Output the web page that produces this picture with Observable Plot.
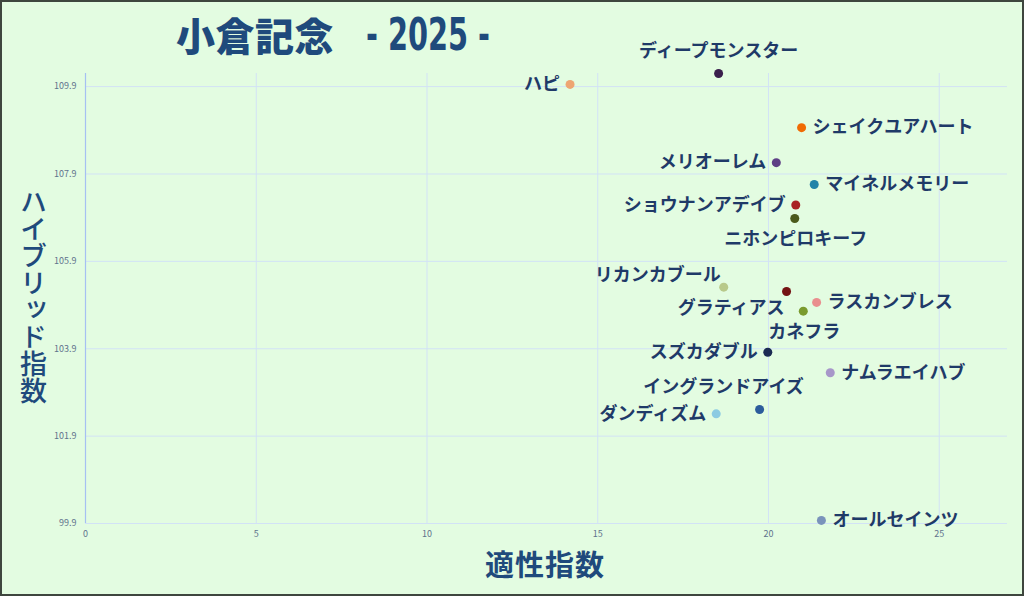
<!DOCTYPE html>
<html><head><meta charset="utf-8">
<script src="https://cdn.jsdelivr.net/npm/d3@7"></script>
<script src="https://cdn.jsdelivr.net/npm/@observablehq/plot@0.6"></script>
<style>
html,body{margin:0;padding:0;background:#e3fce1;}
#wrap{position:relative;width:1024px;height:596px;overflow:hidden;background:#e3fce1;font-family:"Noto Sans CJK JP",sans-serif;}
#frame{position:absolute;left:0;top:0;width:1024px;height:596px;box-sizing:border-box;border:2px solid #3e463e;pointer-events:none;}
#chart{position:absolute;left:0;top:0;}
#title{position:absolute;left:176px;top:7px;color:#1f4a7c;font-weight:900;font-size:39px;line-height:54px;white-space:pre;letter-spacing:0.5px;}
#yr{position:absolute;left:366px;top:8px;color:#1f4a7c;font-family:"Liberation Sans Narrow","DejaVu Sans Condensed","Liberation Sans",sans-serif;font-weight:bold;font-size:45px;line-height:54px;white-space:pre;transform-origin:left center;}
#xtitle{position:absolute;left:485px;top:543px;color:#1f4a7c;font-weight:700;font-size:29px;line-height:40px;letter-spacing:1px;}
#ytitle{position:absolute;left:18px;top:188px;color:#1f4a7c;font-weight:500;font-size:27px;writing-mode:vertical-rl;text-orientation:upright;line-height:30px;}
#chart text.lbl{filter:drop-shadow(1px 1px 1px rgba(0,0,0,0.22));}
</style>
</head><body>
<div id="wrap">
  <div id="chart"></div>
  <div id="title">小倉記念</div>
  <div id="yr">- 2025 -</div>
  <div id="xtitle">適性指数</div>
  <div id="ytitle">ハイブリッド指数</div>
  <div id="frame"></div>
</div>
<script>
// ---- data ----
const horses = ["ディープモンスター","ハピ","シェイクユアハート","メリオーレム","マイネルメモリー","ショウナンアデイブ","ニホンピロキーフ","リカンカブール","グラティアス","ラスカンブレス","カネフラ","スズカダブル","ナムラエイハブ","イングランドアイズ","ダンディズム","オールセインツ"];
const aptitude = [18.54, 14.19, 20.97, 20.23, 21.34, 20.80, 20.77, 18.69, 20.53, 21.41, 21.02, 19.98, 21.81, 19.74, 18.47, 21.55];
const hybrid   = [110.20, 109.95, 108.96, 108.16, 107.66, 107.19, 106.88, 105.31, 105.21, 104.96, 104.76, 103.82, 103.35, 102.51, 102.41, 99.97];
const dotColors = ["#3a1f4c","#eea572","#f06b04","#5e3f85","#2183a8","#a92123","#4b5a1c","#b8c98a","#741313","#e98e8e","#7a9b2e","#1b2b52","#a797c9","#2c5c9c","#8ccbe2","#7a93bb"];
const labelPlace = ["top","left","right","left","right","left","bottom","topLeft","bottomLeft","right","bottom","left","right","topShift","left","right"];
const xTicks = [0, 5, 10, 15, 20, 25];
const yTicks = [99.9, 101.9, 103.9, 105.9, 107.9, 109.9];
const xDomain = [0, 27];
const yDomain = [99.9, 110.2];

// ---- label placement styles ----
const placeStyle = {
  right:      {textAnchor: "start",  dx: 11,  dy: 0},
  left:       {textAnchor: "end",    dx: -10, dy: 0},
  top:        {textAnchor: "middle", dx: 0,   dy: -22},
  bottom:     {textAnchor: "middle", dx: 1,   dy: 21},
  topLeft:    {textAnchor: "end",    dx: -3,  dy: -12},
  bottomLeft: {textAnchor: "end",    dx: -2,  dy: 17},
  topShift:   {textAnchor: "middle", dx: -36, dy: -22}
};

const rows = horses.map((h, i) => ({name: h, x: aptitude[i], y: hybrid[i], color: dotColors[i], place: labelPlace[i]}));

const labelMarks = Object.entries(placeStyle).map(([k, s]) =>
  Plot.text(rows.filter(d => d.place === k), {
    x: "x", y: "y", text: "name", ...s,
    fill: "#1f3a68", fontSize: 18, fontWeight: "bold", className: "lbl",
    fontFamily: "Noto Sans CJK JP"
  })
);

const chart = Plot.plot({
  width: 1024,
  height: 596,
  marginLeft: 85,
  marginRight: 17,
  marginTop: 73,
  marginBottom: 73,
  style: {background: "transparent", fontFamily: "Noto Sans CJK JP, sans-serif"},
  x: {domain: xDomain},
  y: {domain: yDomain},
  marks: [
    Plot.gridX(xTicks, {stroke: "#d2e2f6", strokeOpacity: 1}),
    Plot.gridY(yTicks, {stroke: "#d2e2f6", strokeOpacity: 1}),
    Plot.ruleX([0], {stroke: "#a6c0f2", strokeWidth: 1.2}),
    Plot.axisX(xTicks, {tickSize: 0, tickPadding: 7, fontSize: 9, color: "#60728c", label: null}),
    Plot.axisY(yTicks, {tickSize: 0, tickPadding: 9, fontSize: 9, color: "#60728c", label: null, tickFormat: d => d.toFixed(1)}),
    Plot.dot(rows, {x: "x", y: "y", fill: "color", r: 4.5, stroke: null}),
    ...labelMarks
  ]
});
document.getElementById("chart").appendChild(chart);

// fit the condensed year part to its width in the reference
const yr = document.getElementById("yr");
const w = yr.getBoundingClientRect().width;
if (w > 0) yr.style.transform = `scaleX(${(124 / w).toFixed(3)})`;
</script>
</body></html>
